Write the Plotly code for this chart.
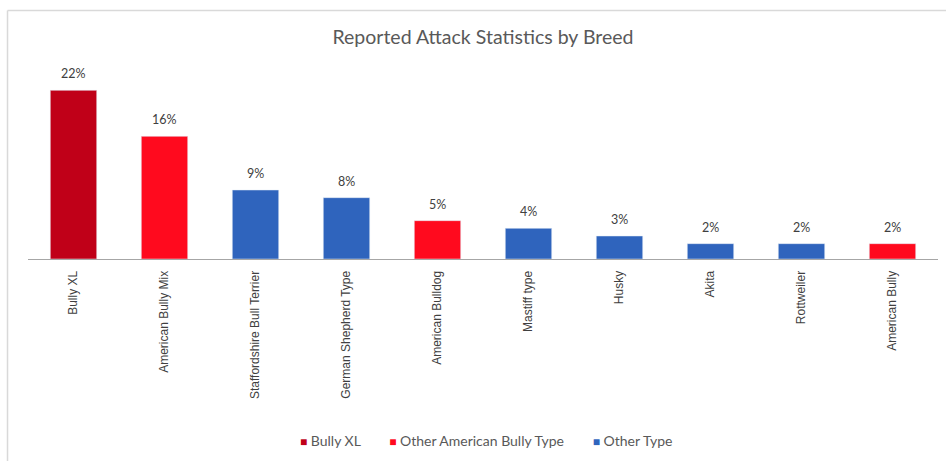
import plotly.graph_objects as go

categories = ["Bully XL", "American Bully Mix", "Staffordshire Bull Terrier",
              "German Shepherd Type", "American Bulldog", "Mastiff type",
              "Husky", "Akita", "Rottweiler", "American Bully"]
values = [22, 16, 9, 8, 5, 4, 3, 2, 2, 2]
types = ["Bully XL", "Other American Bully Type", "Other Type", "Other Type",
         "Other American Bully Type", "Other Type", "Other Type", "Other Type",
         "Other Type", "Other American Bully Type"]
type_order = ["Bully XL", "Other American Bully Type", "Other Type"]
type_colors = {"Bully XL": "#C00018", "Other American Bully Type": "#FF0A1E",
               "Other Type": "#2F64BD"}

FONT = "Lato, Liberation Sans, sans-serif"

fig = go.Figure()
for t in type_order:
    xs = [c for c, tt in zip(categories, types) if tt == t]
    ys = [v for v, tt in zip(values, types) if tt == t]
    fig.add_trace(go.Bar(x=xs, y=ys, name=t, marker_color=type_colors[t],
                         showlegend=False))

W, H = 946, 461
L, R, T, B = 27.5, 7.5, 74.7, 202
pw, ph = W - L - R, H - T - B

def px(x):
    return (x - L) / pw

def py(y):
    return (H - B - y) / ph

annotations = []
for c, v in zip(categories, values):
    annotations.append(dict(x=c, y=v, xref="x", yref="y", text=f"{v}%", showarrow=False,
                            yanchor="bottom", yshift=7,
                            font=dict(family=FONT, size=12.5, color="#404040")))

legend_parts = []
for t in type_order:
    legend_parts.append(f'<span style="color:{type_colors[t]};font-size:12px">■</span> {t}')
annotations.append(dict(xref="paper", yref="paper", x=px(486), y=py(441), xanchor="center",
                        yanchor="middle", showarrow=False,
                        text="        ".join(legend_parts),
                        font=dict(family=FONT, size=14, color="#595959")))

fig.update_layout(
    width=W, height=H,
    margin=dict(l=L, r=R, t=T, b=B),
    paper_bgcolor="white", plot_bgcolor="white",
    barmode="overlay", bargap=0.49,
    title=dict(text="Reported Attack Statistics by Breed", xref="container", x=483 / W,
               xanchor="center", y=1 - 37 / H, yanchor="middle",
               font=dict(family=FONT, size=19.5, color="#595959")),
    showlegend=False,
    xaxis=dict(categoryorder="array", categoryarray=categories, showline=True,
               linecolor="#A6A6A6", linewidth=1, ticks="", tickangle=-90,
               ticklabelstandoff=6,
               tickfont=dict(family="Liberation Sans, Arial, sans-serif", size=12, color="#404040"),
               showgrid=False, zeroline=False),
    yaxis=dict(range=[0, 24], visible=False, showgrid=False, zeroline=False),
    annotations=annotations,
    shapes=[
        dict(type="line", xref="paper", yref="paper", x0=px(7), x1=px(960), y0=py(10), y1=py(10),
             line=dict(color="#D9D9D9", width=1.5)),
        dict(type="line", xref="paper", yref="paper", x0=px(7), x1=px(7), y0=py(10), y1=py(470),
             line=dict(color="#D9D9D9", width=1.5)),
    ],
)

fig.write_html("out.html", config={"displayModeBar": False},
               post_script="document.body.style.margin='0';")
